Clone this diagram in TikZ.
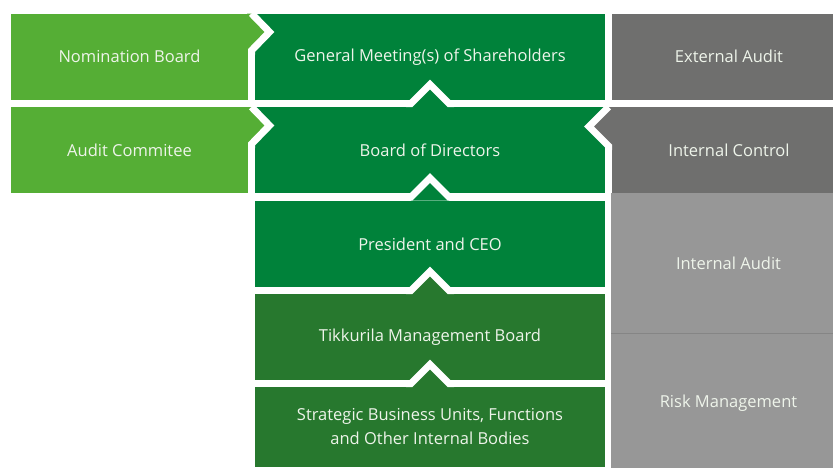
\documentclass[tikz,border=0pt]{standalone}
\usepackage{fontspec}
\setmainfont{Open Sans}
\usetikzlibrary{calc}
\definecolor{boardlime}{HTML}{55AE35}
\definecolor{boardgreen}{HTML}{00823A}
\definecolor{mgmtgreen}{HTML}{27782E}
\definecolor{auditgray}{HTML}{6F6F6E}
\definecolor{riskgray}{HTML}{979797}
\definecolor{riskline}{HTML}{858585}
\definecolor{labeltext}{HTML}{EEF4EA}

\begin{document}
\begin{tikzpicture}[x=1pt, y=-1pt,
  every node/.style={font=\fontsize{16.5}{24}\selectfont, align=center, text=labeltext},
  box/.style={anchor=north west, inner sep=0pt, outer sep=0pt},
  cut/.style={white, line width=7pt, line join=miter}]
\useasboundingbox (0,0) rectangle (833,467);
\clip (0,0) rectangle (833,467);

% left column
\node[box, fill=boardlime, minimum width=237pt, minimum height=86.5pt] (nomination) at (11,13.5) {Nomination Board};
\node[box, fill=boardlime, minimum width=237pt, minimum height=86pt] (auditcom) at (11,107) {Audit Commitee};

% governance chain
\node[box, fill=boardgreen, minimum width=350pt, minimum height=86.5pt] (agm) at (255,13.5) {General Meeting(s) of Shareholders};
\node[box, fill=boardgreen, minimum width=350pt, minimum height=86pt] (board) at (255,107) {Board of Directors};
\node[box, fill=boardgreen, minimum width=350pt, minimum height=86pt] (ceo) at (255,201) {President and CEO};
\node[box, fill=mgmtgreen, minimum width=350pt, minimum height=86pt] (mgmt) at (255,294) {Tikkurila Management Board};
\node[box, fill=mgmtgreen, minimum width=350pt, minimum height=80pt] (units) at (255,387) {Strategic Business Units, Functions\\and Other Internal Bodies};

% control column
\node[box, fill=auditgray, minimum width=234pt, minimum height=86.5pt] (extaudit) at (612,13.5) {External Audit};
\node[box, fill=auditgray, minimum width=234pt, minimum height=86pt] (intcontrol) at (612,107) {Internal Control};
\node[box, fill=riskgray, minimum width=235pt, minimum height=140.5pt] (intaudit) at (611,193) {Internal Audit};
\node[box, fill=riskgray, minimum width=235pt, minimum height=140pt] (risk) at (611,333.5) {Risk Management};
\draw[riskline, line width=1.5pt] (intaudit.south west) -- (intaudit.south east);

% arrows into the chain from the left
\foreach \lft/\rgt in {nomination/agm, auditcom/board} {
  \coordinate (s) at ($(\lft.north east)!0.5!(\rgt.north west)$);
  \fill[boardlime] ($(s)+(-4.5,0)$) -- (s) -- ($(s)+(18,18.5)$) -- ($(s)+(0,37)$) -- ($(s)+(-4.5,37)$) -- cycle;
  \draw[cut] (s) -- ($(s)+(18,18.5)$) -- ($(s)+(0,37)$) -- ($(s)+(0,41)$);
}

% upward arrows between the chain boxes
\foreach \hi/\lo/\col in {agm/board/boardgreen, board/ceo/boardgreen, ceo/mgmt/mgmtgreen, mgmt/units/mgmtgreen} {
  \coordinate (m) at ($(\hi.south)!0.5!(\lo.north)$);
  \fill[\col] ($(m)+(-19,3.5)$) -- ($(m)+(-19,0)$) -- ($(m)+(0,-19)$) -- ($(m)+(19,0)$) -- ($(m)+(19,3.5)$) -- cycle;
  \draw[cut] ($(m)+(-24,0)$) -- ($(m)+(-19,0)$) -- ($(m)+(0,-19)$) -- ($(m)+(19,0)$) -- ($(m)+(24,0)$);
}

% internal control points back into the board
\coordinate (c) at ($(board.north east)!0.5!(intcontrol.north west)$);
\fill[auditgray] ($(c)+(4,0)$) -- (c) -- ($(c)+(-19.5,19.5)$) -- ($(c)+(0,39)$) -- ($(c)+(4,39)$) -- cycle;
\draw[cut] (c) -- ($(c)+(-19.5,19.5)$) -- ($(c)+(0,39)$) -- ($(c)+(0,43)$);
\end{tikzpicture}
\end{document}
